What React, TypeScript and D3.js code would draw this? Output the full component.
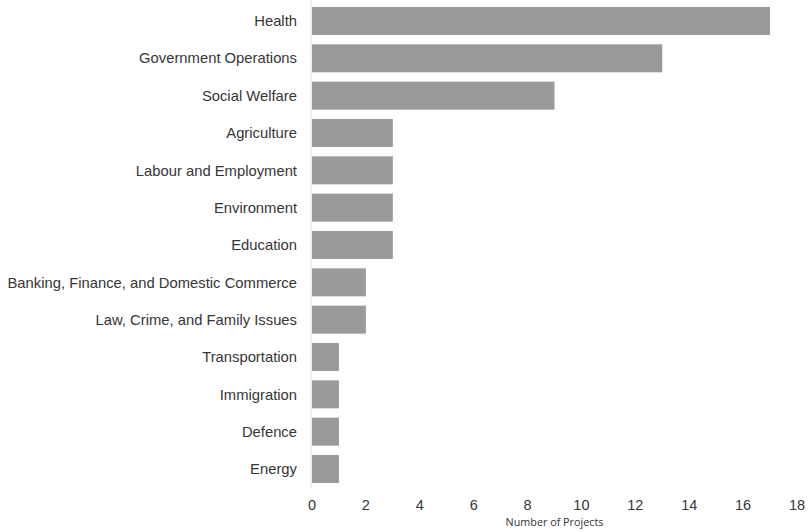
import React from "react";
import * as d3 from "d3";

const categories = [
  "Health",
  "Government Operations",
  "Social Welfare",
  "Agriculture",
  "Labour and Employment",
  "Environment",
  "Education",
  "Banking, Finance, and Domestic Commerce",
  "Law, Crime, and Family Issues",
  "Transportation",
  "Immigration",
  "Defence",
  "Energy",
];
const values = [17, 13, 9, 3, 3, 3, 3, 2, 2, 1, 1, 1, 1];
const xTicks = [0, 2, 4, 6, 8, 10, 12, 14, 16, 18];
const xTitle = "Number of Projects";

const W = 808;
const H = 532;
const FONT = "'Liberation Sans', Arial, Helvetica, sans-serif";

export default function App() {
  const x = d3.scaleLinear().domain([0, 18]).range([312, 797]);
  const y = d3
    .scaleBand<string>()
    .domain(categories)
    .range([2.3, 487.7])
    .paddingInner(0.25)
    .paddingOuter(0.125);
  return (
    <svg
      width={W}
      height={H}
      style={{ position: "absolute", left: 0, top: 0, background: "#fff" }}
    >
      <line x1={311} x2={311} y1={0} y2={488} stroke="#e2e2e2" strokeWidth={1} />
      {categories.map((c, i) => (
        <g key={c}>
          <rect
            x={x(0)}
            y={y(c)!}
            width={x(values[i]) - x(0)}
            height={y.bandwidth()}
            fill="#9a9a9a"
          />
          <text
            x={297}
            y={y(c)! + y.bandwidth() / 2}
            dy="0.35em"
            textAnchor="end"
            fontFamily={FONT}
            fontSize={14.8}
            fill="#363636"
          >
            {c}
          </text>
        </g>
      ))}
      {xTicks.map((t) => (
        <text
          key={t}
          x={x(t)}
          y={505}
          dy="0.35em"
          textAnchor="middle"
          fontFamily={FONT}
          fontSize={14.5}
          fill="#363636"
        >
          {t}
        </text>
      ))}
      <text
        x={(x(0) + x(18)) / 2}
        y={522}
        dy="0.35em"
        textAnchor="middle"
        fontFamily="'Open Sans', sans-serif"
        fontSize={10.8}
        fill="#363636"
      >
        {xTitle}
      </text>
    </svg>
  );
}
